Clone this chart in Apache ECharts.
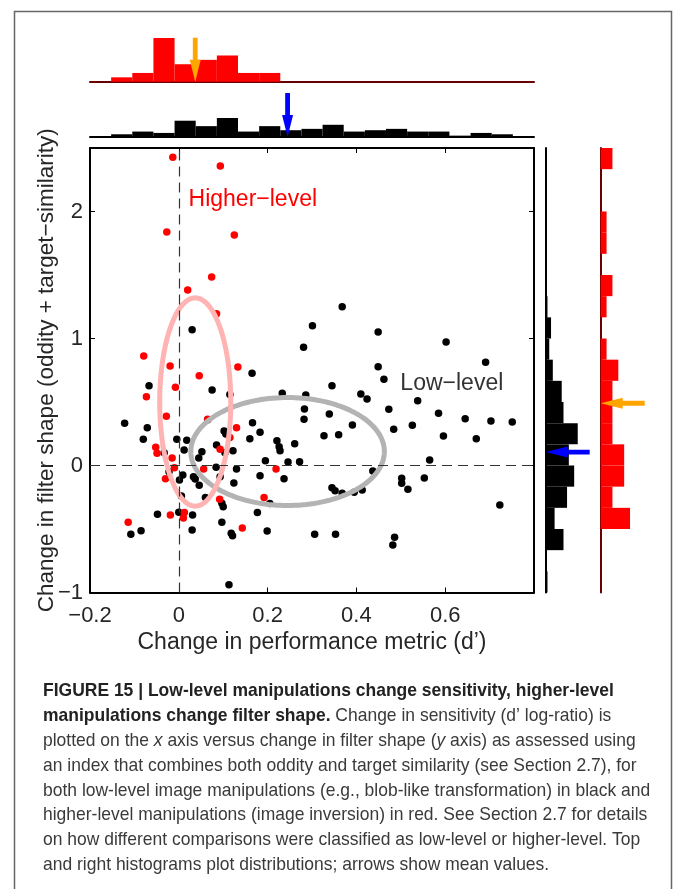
<!DOCTYPE html>
<html>
<head>
<meta charset="utf-8">
<script src="https://cdn.jsdelivr.net/npm/echarts@6/dist/echarts.min.js"></script>
<style>
html,body{margin:0;padding:0;background:#fff;}
#chart{width:673px;height:889px;}
</style>
</head>
<body>
<div id="chart"></div>
<script>
// ---------------- DATA ----------------
// Low-level manipulations (black points): [d' change, filter-shape change]
const blackPoints = [
  [0.030,1.069],[0.301,1.101],[0.281,0.931],[0.368,1.25],[0.449,1.051],[0.602,0.972],[0.691,0.813],[0.449,0.778],
  [0.165,0.726],[-0.067,0.628],[0.075,0.594],[0.233,0.568],[0.286,0.555],[0.283,0.445],[0.282,0.364],[-0.122,0.332],
  [-0.071,0.298],[0.166,0.337],[0.102,0.272],[0.106,0.248],[0.183,0.261],[-0.080,0.206],[-0.0045,0.206],[0.018,0.198],
  [0.160,0.211],[0.221,0.195],[0.226,0.148],[0.228,0.117],[0.261,0.172],[0.012,0.122],[0.052,0.109],[0.085,0.161],
  [0.122,0.117],[0.195,0.038],[0.246,0.028],[0.272,0.030],[0.084,-0.014],[0.130,-0.028],[0.009,-0.075],[0.0015,-0.114],
  [0.033,-0.088],[0.037,-0.106],[0.046,-0.156],[0.093,-0.088],[0.124,-0.138],[0.183,-0.080],[0.237,-0.104],[0.060,-0.251],
  [0.097,-0.298],[0.100,-0.324],[-0.048,-0.384],[0.0,-0.369],[0.031,-0.390],[0.177,-0.371],[0.097,-0.447],[-0.085,-0.513],
  [-0.108,-0.542],[0.030,-0.508],[0.118,-0.534],[0.121,-0.553],[0.199,-0.516],[0.306,-0.542],[0.113,-0.939],
  [0.462,0.679],[0.345,0.628],[0.410,0.563],[0.424,0.524],[0.538,0.510],[0.473,0.442],[0.339,0.405],[0.585,0.411],
  [0.645,0.369],[0.703,0.350],[0.751,0.342],[0.391,0.319],[0.484,0.285],[0.526,0.316],[0.327,0.235],[0.360,0.243],
  [0.596,0.232],[0.670,0.211],[0.565,0.043],[0.437,-0.043],[0.502,-0.101],[0.502,-0.140],[0.516,-0.187],[0.553,-0.098],
  [0.345,-0.175],[0.352,-0.198],[0.368,-0.219],[0.413,-0.193],[0.723,-0.311],[0.353,-0.542],[0.486,-0.565],[0.482,-0.626],
  [0.395,-0.210],[0.205,-0.300],[-0.033,0.100],[-0.022,-0.050],[0.006,-0.240],[0.115,0.560],[0.065,0.360],[0.045,0.060],[0.104,0.100]
];
// Higher-level manipulations (red points)
const redPoints = [
  [-0.0135,2.427],[0.0935,2.358],[-0.027,1.839],[0.125,1.815],[0.074,1.484],[0.020,1.382],[0.085,1.195],[-0.079,0.862],
  [-0.0196,0.783],[0.133,0.776],[0.046,0.707],[-0.073,0.542],[-0.0076,0.616],[-0.028,0.387],[0.130,0.298],[0.065,0.364],
  [-0.052,0.143],[-0.049,0.096],[-0.015,0.059],[0.093,0.127],[-0.0099,-0.017],[0.056,-0.028],[-0.030,-0.104],[0.219,-0.028],
  [0.192,-0.251],[0.092,-0.266],[-0.019,-0.390],[0.0126,-0.371],[0.0103,-0.413],[-0.114,-0.447],[0.143,-0.492],[0.115,0.220]
];
// Histogram counts: 21 bins across each axis range
const xBinStart = -0.2, xBinWidth = 1/21;
const yBinStart = -1,   yBinWidth = 1/6;
const topRedCounts    = [0,1,2,10,4,5,6,2,2,0,0,0,0,0,0,0,0,0,0,0,0];
const topBlackCounts  = [0,2,4,3,12,8,14,4,8,5,6,9,4,5,6,4,4,1,3,2,0];
const rightBlackCounts= [1,0,10,5,12,16,13,18,10,9,4,2,3,1,0,0,0,0,0,0,0]; // bottom -> top
const rightRedCounts  = [0,0,0,5,2,4,4,2,2,2,3,1,0,1,2,0,1,1,0,0,2];     // bottom -> top
// Means (arrows) and ellipses [cx, cy, rx, ry]
const redMean   = [0.037, 0.49];
const blackMean = [0.245, 0.106];
const redEllipse   = [0.037, 0.50, 0.080, 0.820];
const blackEllipse = [0.245, 0.11, 0.218, 0.425];
// Axis ranges / ticks
const xRange = [-0.2, 0.8], xStep = 0.2;
const yRange = [-1, 2.5], yStep = 1;
// Annotations
const annotationTexts = ['Higher\u2212level', 'Low\u2212level'];
const annotationPos = [[0.022, 2.095], [0.499, 0.642]];
const xTitle = 'Change in performance metric (d\u2019)';
const yTitle = 'Change in filter shape (oddity + target\u2212similarity)';
const captionLines = [
  '{b|FIGURE 15 | Low-level manipulations change sensitivity, higher-level}',
  '{b|manipulations change filter shape.} Change in sensitivity (d\u2019 log-ratio) is',
  'plotted on the {i|x} axis versus change in filter shape ({i|y} axis) as assessed using',
  'an index that combines both oddity and target similarity (see Section 2.7), for',
  'both low-level image manipulations (e.g., blob-like transformation) in black and',
  'higher-level manipulations (image inversion) in red. See Section 2.7 for details',
  'on how different comparisons were classified as low-level or higher-level. Top',
  'and right histograms plot distributions; arrows show mean values.'
];

// ---------------- STYLE ----------------
const FONT = "'Liberation Sans', Arial, sans-serif";
const CAP_FONT = "'Liberation Sans', Arial, sans-serif";
const TXT = '#262626';
const DARKRED = '#6B0000';

const chart = echarts.init(document.getElementById('chart'), null, {renderer:'canvas'});

const fmt = v => { const r = Math.round(v*10)/10; return String(r).replace('-', '\u2212'); };

function colBins(counts){ return counts.map((c,i)=>[xBinStart+i*xBinWidth, xBinStart+(i+1)*xBinWidth, c]); }
function rowBins(counts){ return counts.map((c,i)=>[yBinStart+i*yBinWidth, yBinStart+(i+1)*yBinWidth, c]); }

function vBars(color){
  return function(params, api){
    const c = api.value(2); if (!c) return null;
    const p0 = api.coord([api.value(0), c]);
    const p1 = api.coord([api.value(1), 0]);
    return {type:'rect', shape:{x:p0[0], y:p0[1], width:p1[0]-p0[0], height:p1[1]-p0[1]}, style:{fill:color}};
  };
}
function hBars(color){
  return function(params, api){
    const c = api.value(2); if (!c) return null;
    const p0 = api.coord([0, api.value(1)]);
    const p1 = api.coord([c, api.value(0)]);
    return {type:'rect', shape:{x:p0[0], y:p0[1], width:p1[0]-p0[0], height:p1[1]-p0[1]}, style:{fill:color}};
  };
}
const AL = 44, AH = 22, AHW = 5.5, ASW = 2.4;
function downArrow(color){
  return function(params, api){
    const t = api.coord([api.value(0), 0]); const x=t[0], y=t[1];
    return {type:'polygon', shape:{points:[[x-ASW,y-AL],[x+ASW,y-AL],[x+ASW,y-AH],[x+AHW,y-AH],[x,y],[x-AHW,y-AH],[x-ASW,y-AH]]}, style:{fill:color}};
  };
}
function leftArrow(color){
  return function(params, api){
    const t = api.coord([0, api.value(1)]); const x=t[0], y=t[1];
    return {type:'polygon', shape:{points:[[x+AL,y-ASW],[x+AL,y+ASW],[x+AH,y+ASW],[x+AH,y+AHW],[x,y],[x+AH,y-AHW],[x+AH,y-ASW]]}, style:{fill:color}};
  };
}
const ellipseColors = ['#B3B3B3', '#FFB3B3'];
function ellipseRender(params, api){
  const cx=api.value(0), cy=api.value(1), rx=api.value(2), ry=api.value(3);
  const pts=[]; const N=160;
  for(let k=0;k<N;k++){ const a=2*Math.PI*k/N; pts.push(api.coord([cx+rx*Math.cos(a), cy+ry*Math.sin(a)])); }
  return {type:'polygon', shape:{points:pts}, style:{fill:'none', stroke:ellipseColors[params.dataIndex], lineWidth:5}};
}
const annotationColors = ['#FF0000', '#333333'];
function textRender(params, api){
  const p = api.coord([api.value(0), api.value(1)]);
  return {type:'text', x:p[0], y:p[1], style:{text:annotationTexts[params.dataIndex], fill:annotationColors[params.dataIndex],
    font:'23px ' + FONT, align:'left', verticalAlign:'middle'}};
}

const hidden = {show:false};
const mainX = (pos, labels) => ({
  gridIndex:0, type:'value', min:xRange[0], max:xRange[1], interval:xStep, position:pos,
  axisLine:{show:true, onZero:false, lineStyle:{color:'#000', width:2}},
  axisTick:{show:true, inside:true, length:5, lineStyle:{color:'#000', width:1}},
  axisLabel:{show:labels, margin:12, fontSize:22, fontFamily:FONT, color:TXT, formatter:fmt, showMaxLabel:false},
  splitLine:hidden,
  name: labels ? xTitle : '', nameLocation:'middle', nameGap:39, nameMoveOverlap:false,
  nameTextStyle:{fontSize:23, fontFamily:FONT, color:TXT}
});
const mainY = (pos, labels) => ({
  gridIndex:0, type:'value', min:yRange[0], max:yRange[1], interval:yStep, position:pos,
  axisLine:{show:true, onZero:false, lineStyle:{color:'#000', width:2}},
  axisTick:{show:true, inside:true, length:5, lineStyle:{color:'#000', width:1}},
  axisLabel:{show:labels, margin:7, fontSize:22, fontFamily:FONT, color:TXT, formatter:fmt, showMaxLabel:false},
  splitLine:hidden,
  name: labels ? yTitle : '', nameLocation:'middle', nameGap:32, nameRotate:90, nameMoveOverlap:false,
  nameTextStyle:{fontSize:22.5, fontFamily:FONT, color:TXT}
});
const baseAxis = (grid, range, lineColor) => ({
  gridIndex:grid, type:'value', min:range[0], max:range[1],
  axisLine: lineColor ? {show:true, onZero:false, lineStyle:{color:lineColor, width:2}} : hidden,
  axisTick:hidden, axisLabel:hidden, splitLine:hidden
});

const graphics = [
  {type:'rect', shape:{x:14.5, y:11.5, width:657, height:900}, style:{fill:'none', stroke:'#666', lineWidth:1.5}, silent:true}
];
captionLines.forEach((t,i)=>{
  graphics.push({type:'text', x:43, y:690.7 + 24.9*i, scaleX:0.92, scaleY:1, silent:true, style:{
    text:t, fill:'#3a3a3a', font:'19px ' + CAP_FONT, verticalAlign:'middle', textVerticalAlign:'middle', align:'left',
    rich:{
      b:{fontWeight:'bold', fontSize:19, fontFamily:CAP_FONT, fill:'#222'},
      i:{fontStyle:'italic', fontSize:19, fontFamily:CAP_FONT, fill:'#3a3a3a'}
    }
  }});
});

const option = {
  animation:false,
  backgroundColor:'#fff',
  grid:[
    {left:90, top:148, width:444, height:444.5, outerBoundsMode:'none'},
    {left:90, top:30, width:444, height:51.7, outerBoundsMode:'none'},
    {left:90, top:88, width:444, height:49, outerBoundsMode:'none'},
    {left:545.7, top:148, width:50, height:444.5, outerBoundsMode:'none'},
    {left:600.7, top:148, width:50, height:444.5, outerBoundsMode:'none'}
  ],
  xAxis:[
    mainX('bottom', true), mainX('top', false),
    baseAxis(1, xRange, DARKRED), baseAxis(2, xRange, '#000'),
    baseAxis(3, [0, 28.1], null), baseAxis(4, [0, 8.52], null)
  ],
  yAxis:[
    mainY('left', true), mainY('right', false),
    baseAxis(1, [0, 11.83], null), baseAxis(2, [0, 36.1], null),
    baseAxis(3, yRange, '#000'), baseAxis(4, yRange, DARKRED)
  ],
  graphic: graphics,
  series:[
    {type:'scatter', xAxisIndex:0, yAxisIndex:0, data:[], z:1, silent:true,
      markLine:{silent:true, symbol:['none','none'], label:{show:false},
        lineStyle:{color:'#333', type:[10,6], width:1.2}, emphasis:{disabled:true},
        data:[{xAxis:0},{yAxis:0}]}},
    {type:'scatter', xAxisIndex:0, yAxisIndex:0, data:blackPoints, symbolSize:7.5, itemStyle:{color:'#000', opacity:1}, z:2, silent:true},
    {type:'scatter', xAxisIndex:0, yAxisIndex:0, data:redPoints, symbolSize:7.5, itemStyle:{color:'#FF0000', opacity:1}, z:3, silent:true},
    {type:'custom', xAxisIndex:0, yAxisIndex:0, data:[blackEllipse, redEllipse], renderItem:ellipseRender, z:4, silent:true, encode:{x:0,y:1}},
    {type:'custom', xAxisIndex:0, yAxisIndex:0, data:annotationPos, renderItem:textRender, z:5, silent:true, encode:{x:0,y:1}},
    {type:'custom', xAxisIndex:2, yAxisIndex:2, data:colBins(topRedCounts), renderItem:vBars('#FF0000'), silent:true, encode:{x:[0,1], y:2}},
    {type:'custom', xAxisIndex:3, yAxisIndex:3, data:colBins(topBlackCounts), renderItem:vBars('#000'), silent:true, encode:{x:[0,1], y:2}},
    {type:'custom', xAxisIndex:4, yAxisIndex:4, data:rowBins(rightBlackCounts), renderItem:hBars('#000'), silent:true, encode:{x:2, y:[0,1]}},
    {type:'custom', xAxisIndex:5, yAxisIndex:5, data:rowBins(rightRedCounts), renderItem:hBars('#FF0000'), silent:true, encode:{x:2, y:[0,1]}},
    {type:'custom', xAxisIndex:2, yAxisIndex:2, data:[[redMean[0], 0]], renderItem:downArrow('#FFA500'), z:10, silent:true, encode:{x:0,y:1}},
    {type:'custom', xAxisIndex:3, yAxisIndex:3, data:[[blackMean[0], 0]], renderItem:downArrow('#0000FF'), z:10, silent:true, encode:{x:0,y:1}},
    {type:'custom', xAxisIndex:4, yAxisIndex:4, data:[[0, blackMean[1]]], renderItem:leftArrow('#0000FF'), z:10, silent:true, encode:{x:0,y:1}},
    {type:'custom', xAxisIndex:5, yAxisIndex:5, data:[[0, redMean[1]]], renderItem:leftArrow('#FFA500'), z:10, silent:true, encode:{x:0,y:1}}
  ]
};
chart.setOption(option);
</script>
</body>
</html>
